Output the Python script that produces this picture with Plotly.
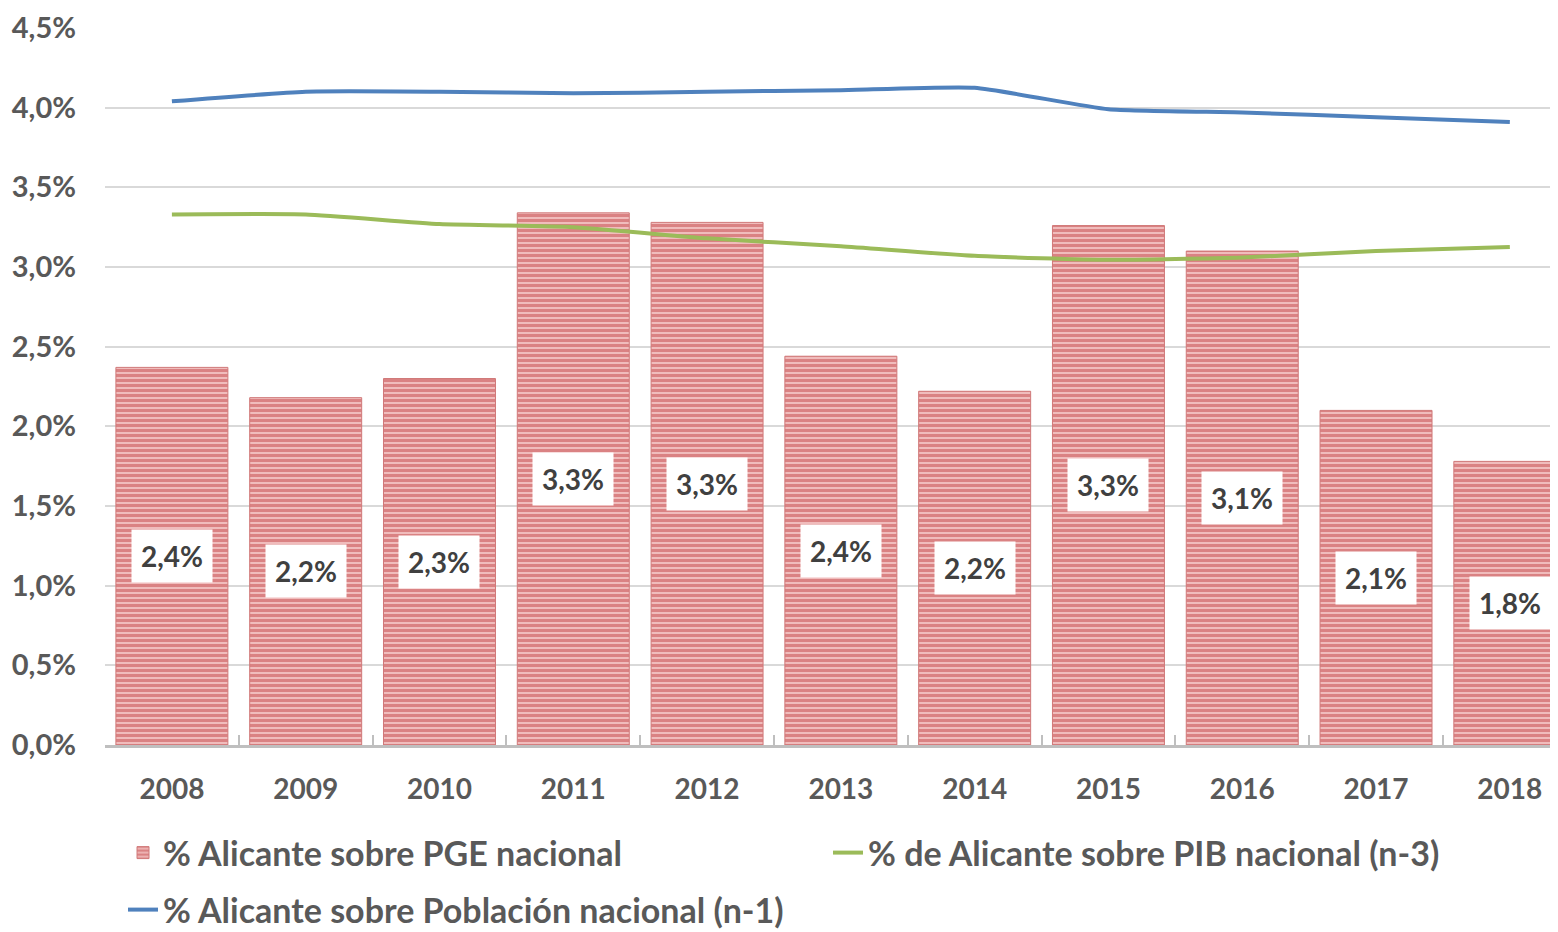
import plotly.graph_objects as go

# datos
years = ["2008", "2009", "2010", "2011", "2012", "2013", "2014", "2015", "2016", "2017", "2018"]
pge = [2.37, 2.18, 2.30, 3.34, 3.28, 2.44, 2.22, 3.26, 3.10, 2.10, 1.78]
pib = [3.33, 3.33, 3.27, 3.25, 3.18, 3.13, 3.07, 3.045, 3.06, 3.10, 3.125]
poblacion = [4.04, 4.10, 4.10, 4.09, 4.10, 4.11, 4.125, 3.99, 3.97, 3.94, 3.91]
y_ticks = [0, 0.5, 1.0, 1.5, 2.0, 2.5, 3.0, 3.5, 4.0, 4.5]

FONT = "Lato"
GRIS = "#595959"


def pct(v, dec=1):
    return f"{v:.{dec}f}".replace(".", ",") + "%"


fig = go.Figure()

fig.add_trace(go.Bar(
    x=years, y=pge,
    name="<b>% Alicante sobre PGE nacional</b>",
    marker=dict(
        color="#f0bcbc",
        line=dict(color="#d07878", width=1),
        pattern=dict(shape="-", fgcolor="#c4484a", bgcolor="#f0bcbc", size=5, solidity=0.6),
    ),
    legend="legend",
))

fig.add_trace(go.Scatter(
    x=years, y=pib, mode="lines",
    name="<b>% de Alicante sobre PIB nacional (n-3)</b>",
    line=dict(color="#9bbb59", width=4, shape="spline", smoothing=0.5),
    legend="legend",
))

fig.add_trace(go.Scatter(
    x=years, y=poblacion, mode="lines",
    name="<b>% Alicante sobre Población nacional (n-1)</b>",
    line=dict(color="#4f81bd", width=4, shape="spline", smoothing=0.5),
    legend="legend2",
))

# etiquetas con fondo blanco en el centro de cada barra
for i, v in enumerate(pge):
    fig.add_annotation(
        x=i, y=v / 2, xref="x", yref="y", text=f"<b>{pct(v)}</b>", showarrow=False,
        font=dict(family=FONT, size=28, color="#404040"),
        bgcolor="white", borderpad=9,
    )

legend_style = dict(
    orientation="h", xanchor="left", yanchor="middle",
    font=dict(family=FONT, size=34, color=GRIS),
    entrywidth=660, entrywidthmode="pixels", traceorder="normal",
    bgcolor="rgba(0,0,0,0)",
)

# la página añade 8px de margen al cuerpo: el gráfico se dibuja 8px más pequeño
fig.update_layout(
    width=1550, height=924,
    margin=dict(l=97, r=0, t=20, b=187, autoexpand=False),
    plot_bgcolor="white", paper_bgcolor="white",
    bargap=0.163,
    showlegend=True,
    legend=dict(x=0.0124, y=-(845 - 737) / 717, **legend_style),
    legend2=dict(x=0.0124, y=-(902 - 737) / 717, **legend_style),
    font=dict(family=FONT, color=GRIS),
)

fig.update_xaxes(
    type="category",
    range=[-0.5, 10.36], automargin=False,
    showline=True, linecolor="#bfbfbf", linewidth=3,
    ticks="inside", tickson="boundaries", ticklen=10, tickcolor="#bfbfbf", tickwidth=2,
    tickfont=dict(family=FONT, size=28, color=GRIS, weight="bold"),
    ticklabelstandoff=17,
    showgrid=False,
)

fig.update_yaxes(
    range=[0, 4.5], automargin=False,
    tickvals=y_ticks, ticktext=[f"<b>{pct(t)}</b>" for t in y_ticks],
    tickfont=dict(family=FONT, size=29, color=GRIS),
    showgrid=True, gridcolor="#d9d9d9", gridwidth=2,
    zeroline=False, showline=False,
    ticklabelstandoff=28,
)

fig.write_html("out.html")
